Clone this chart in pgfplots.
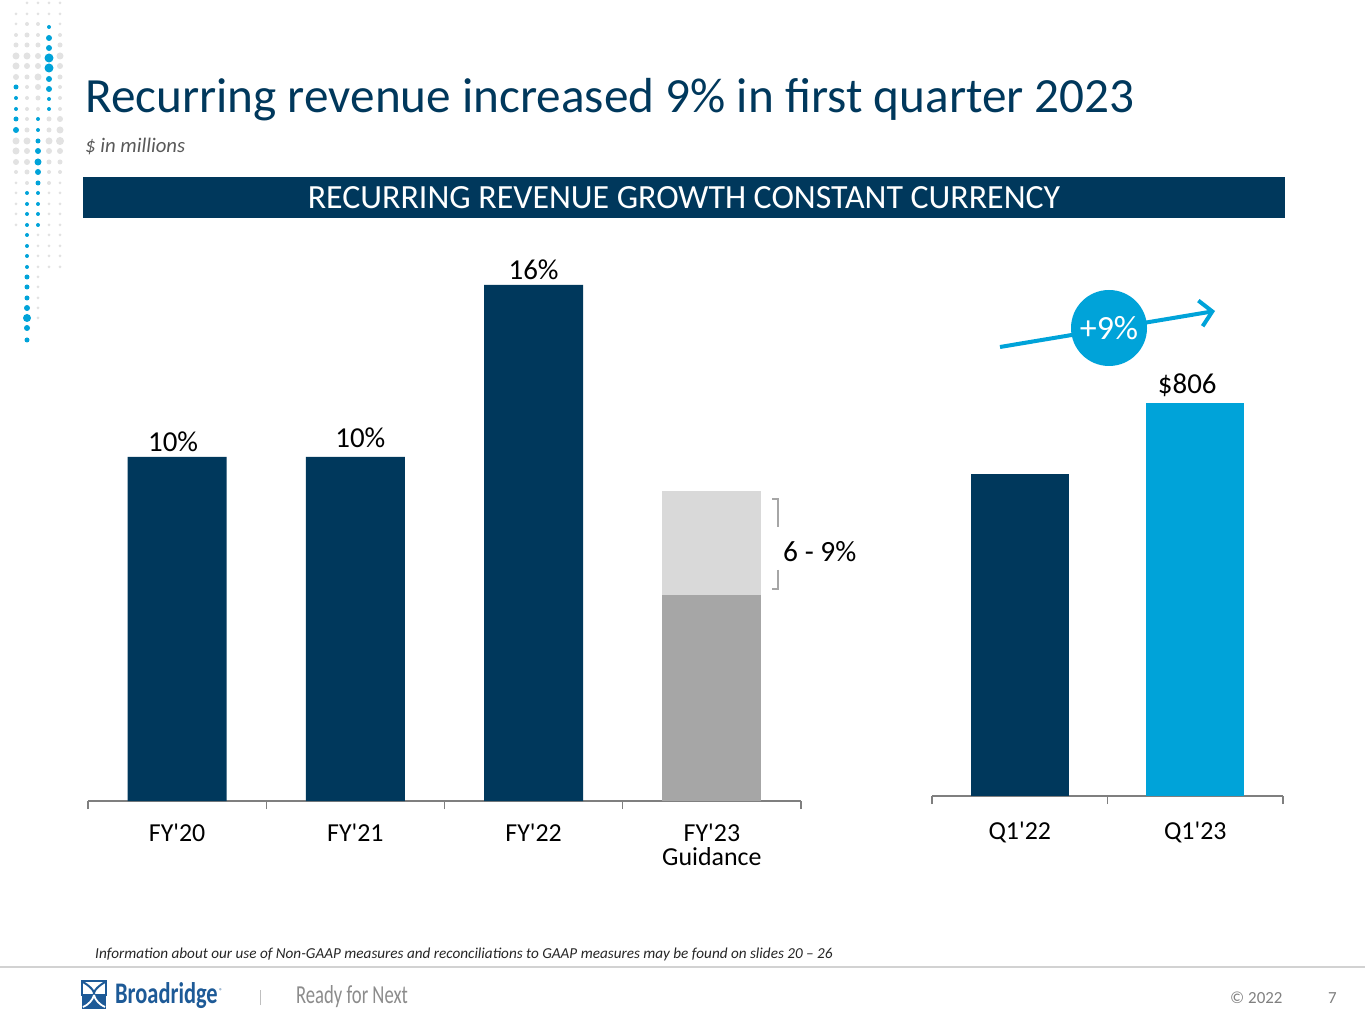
\documentclass[border=0pt]{standalone}
\usepackage{fontspec}
\setmainfont{Carlito}
\usepackage{pgfplots}
\pgfplotsset{compat=1.18}
\usetikzlibrary{arrows.meta}
\definecolor{navy}{HTML}{00385C}
\definecolor{brblue}{HTML}{00A3D9}
\definecolor{midgray}{HTML}{A6A6A6}
\definecolor{lgray}{HTML}{D9D9D9}
\definecolor{dotgray}{HTML}{E2E2E2}
\definecolor{axisgray}{HTML}{7F7F7F}
\definecolor{subgray}{HTML}{595959}
\definecolor{logoblue}{HTML}{1D5A97}
\newcommand\ap{\textquotesingle}
\begin{document}
\begin{tikzpicture}[x=1bp,y=1bp]
\fill[white] (0,0) rectangle (1365,1024);
\path[use as bounding box] (0,0) rectangle (1365,1024);
% decorative dots
\foreach \py/\r in {14/1.5,24/1.5,35/2,45/2.5,56/3.5,66/3.5,77/3,141/3.5,151/3.5,162/3,172/2,183/1.5,193/1.5,204/1.5,214/1.5,225/1.5}
  \fill[dotgray] (16,{1024-\py}) circle (\r);
\foreach \py/\r in {87/2.5,98/2,109/2,119/2.5,130/3}
  \fill[brblue] (16,{1024-\py}) circle (\r);
\foreach \py/\r in {3/1.5,14/1.5,24/2,35/2.5,45/2.5,56/3.5,66/3,77/2.5,87/2,98/2,109/2,119/2,130/2.5,141/3.5,151/3,162/3,172/2.5,183/2}
  \fill[dotgray] (27,{1024-\py}) circle (\r);
\foreach \py/\r in {193/2,204/2,214/2,225/2,235/2,246/2,256/2,267/2,277/2.5,287/2.5,298/2.5,308/3,318/4,328/3,340/2.5}
  \fill[brblue] (27,{1024-\py}) circle (\r);
\foreach \py/\r in {3/1.5,14/1.5,24/2,35/2,45/2.5,56/3,66/3,77/3.5,87/3,98/2.5,109/2,235/1.5,246/1.5,256/1.5,267/1.5,277/1.5,287/1.5,298/1.5,308/1.5,318/1.5}
  \fill[dotgray] (38,{1024-\py}) circle (\r);
\foreach \py/\r in {119/2,130/2,141/2.5,151/3,162/3.5,172/3,183/2.5,193/2,204/2,214/2,225/2}
  \fill[brblue] (38,{1024-\py}) circle (\r);
\foreach \py/\r in {3/1.5,14/1.5,119/2.5,130/2.5,141/3.5,151/3,162/2.5,172/2,183/2,193/1.5,204/1.5,214/1.5,225/1.5,235/1.5,246/1.5,256/1.5,267/1.5}
  \fill[dotgray] (49,{1024-\py}) circle (\r);
\foreach \py/\r in {27/2,38/3,48/3,58/4.5,68/4.5,79/3,89/3,99/2,109/2}
  \fill[brblue] (49,{1024-\py}) circle (\r);
\foreach \py/\r in {3/1.5,14/1.5,24/1.5,35/2,45/2.5,56/3.5,66/3,77/2.5,87/2,98/2,109/2,119/3,130/3.5,141/4,151/3,162/2.5,172/2,183/1.5,193/1.5,204/1.5,214/1.5,225/1.5,235/1.5,246/1.5,256/1.5,267/1.5}
  \fill[dotgray] (60,{1024-\py}) circle (\r);
% title, subtitle, banner
\node[anchor=base west, inner sep=0, text=navy, font=\fontsize{49.4}{58}\selectfont] at (85,911) {Recurring revenue increased 9\% in first quarter 2023};
\node[anchor=base west, inner sep=0, text=subgray, font=\fontsize{20.8}{24}\selectfont\itshape] at (85,871) {\$ in millions};
\fill[navy] (83,806) rectangle (1285,847);
\node[anchor=base, inner sep=0, text=white, font=\fontsize{34}{40}\selectfont] at (684,815) {RECURRING REVENUE GROWTH CONSTANT CURRENCY};
% left chart
\begin{axis}[at={(88bp,223bp)}, anchor=south west, scale only axis,
  width=713bp, height=580bp,
  xmin=-0.5, xmax=3.5, ymin=0, ymax=16.86,
  hide y axis, axis x line=bottom,
  axis line style={-}, x axis line style={-, draw=axisgray, line width=1.3bp},
  xtick={0,1,2,3}, xticklabels={FY\ap20, FY\ap21, FY\ap22, {FY\ap23\\Guidance}},
  major tick length=0pt,
  minor xtick={-0.5,0.5,1.5,2.5,3.5}, minor tick length=8bp, tick align=outside,
  minor tick style={draw=axisgray, line width=1.3bp},
  xticklabel style={align=center, font=\fontsize{26}{25}\selectfont, text=black, yshift=-19bp},
  ybar, bar width=99bp, clip=false]
\addplot[fill=navy, draw=none, bar shift=0pt] coordinates {(0,10) (1,10) (2,15)};
\addplot[fill=lgray, draw=none, bar shift=0pt] coordinates {(3,9)};
\addplot[fill=midgray, draw=none, bar shift=0pt] coordinates {(3,6)};
\node[anchor=base, font=\fontsize{29}{34}\selectfont, xshift=-4bp, yshift=5bp] at (axis cs:0,10) {10\%};
\node[anchor=base, font=\fontsize{29}{34}\selectfont, xshift=5bp, yshift=9bp] at (axis cs:1,10) {10\%};
\node[anchor=base, font=\fontsize{29}{34}\selectfont, yshift=5bp] at (axis cs:2,15) {16\%};
\end{axis}
% right chart
\begin{axis}[at={(932bp,228bp)}, anchor=south west, scale only axis,
  width=351bp, height=580bp,
  xmin=-0.5, xmax=1.5, ymin=441, ymax=980,
  hide y axis, axis x line=bottom,
  axis line style={-}, x axis line style={-, draw=axisgray, line width=1.3bp},
  xtick={0,1}, xticklabels={Q1\ap22, Q1\ap23},
  major tick length=0pt,
  minor xtick={-0.5,0.5,1.5}, minor tick length=8bp, tick align=outside,
  minor tick style={draw=axisgray, line width=1.3bp},
  xticklabel style={align=center, font=\fontsize{26}{25}\selectfont, text=black, yshift=-22bp},
  ybar, bar width=98bp, clip=false]
\addplot[fill=navy, draw=none, bar shift=0pt] coordinates {(0,740)};
\addplot[fill=brblue, draw=none, bar shift=0pt] coordinates {(1,806)};
\node[anchor=base, font=\fontsize{29}{34}\selectfont, xshift=-8bp, yshift=10bp] at (axis cs:1,806) {\$806};
\end{axis}
% bracket
\draw[midgray, line width=1.3] (772,525) -- (778,525) -- (778,497);
\draw[midgray, line width=1.3] (778,454) -- (778,435) -- (772,435);
\node[anchor=west, inner sep=0, font=\fontsize{29.5}{34}\selectfont] at (783,472) {6 - 9\%};
% growth arrow
\draw[brblue, line width=4bp, -{Straight Barb[length=12bp, width=26bp]}] (1000,677) -- (1215,713);
\fill[brblue] (1109,696) circle (38);
\node[text=white, font=\fontsize{34}{40}\selectfont] at (1109,696) {+9\%};
% footnote and footer
\node[anchor=base west, inner sep=0, font=\fontsize{15.25}{18}\selectfont\itshape, text=black!85] at (95,66) {Information about our use of Non-GAAP measures and reconciliations to GAAP measures may be found on slides 20 -- 26};
\draw[gray!35, line width=1.5] (0,57) -- (1365,57);
\fill[logoblue] (82,15) rectangle (106,29);
\draw[logoblue, line width=1.5] (82,29) rectangle (106,43);
\draw[logoblue, line width=2] (83,42) .. controls (93,36) and (95,31) .. (94,29);
\draw[logoblue, line width=2] (105,42) .. controls (95,36) and (93,31) .. (94,29);
\draw[white, line width=1.8] (94,29) .. controls (93,24) and (88,19) .. (83,17);
\draw[white, line width=1.8] (94,29) .. controls (95,24) and (100,19) .. (105,17);
\node[anchor=base west, inner sep=0, font=\fontsize{30}{34}\selectfont\bfseries, text=logoblue, xscale=0.75] at (115,21) {Broadridge};
\node[anchor=base west, inner sep=0, font=\fontsize{7}{8}\selectfont, text=logoblue] at (219,31) {®};
\draw[gray!50, line width=1] (260,19) -- (260,34);
\node[anchor=base west, inner sep=0, font=\fontsize{26}{30}\selectfont, text=gray!90, xscale=0.72] at (296,21) {Ready for Next};
\node[anchor=base west, inner sep=0, font=\fontsize{17}{20}\selectfont, text=gray] at (1230,21) {© 2022};
\node[anchor=base west, inner sep=0, font=\fontsize{17}{20}\selectfont, text=gray] at (1328,21) {7};
\end{tikzpicture}
\end{document}
